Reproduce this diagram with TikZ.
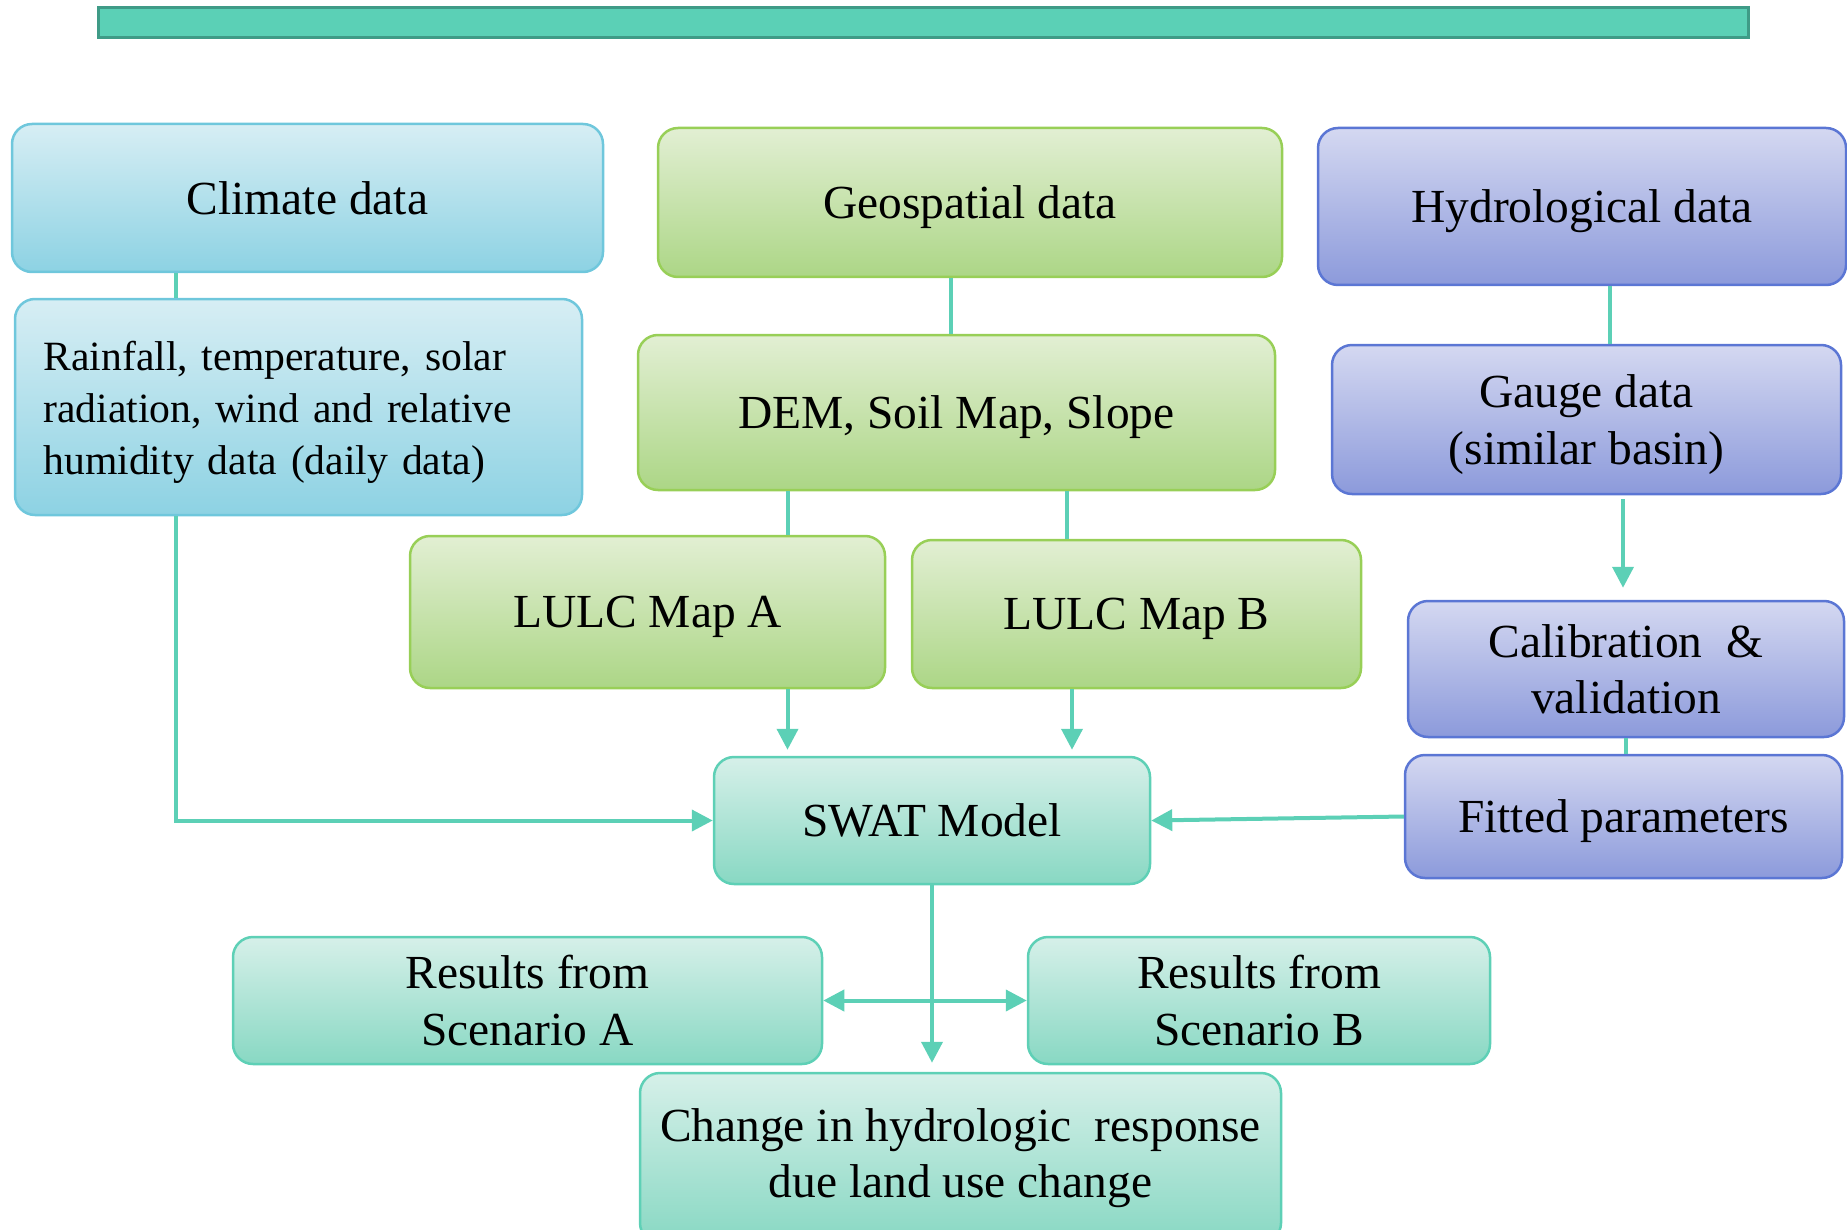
\documentclass[tikz,border=0pt]{standalone}
\usepackage{fontspec}
\setmainfont{Liberation Serif}
\usepackage{tikz}
\usetikzlibrary{arrows.meta}

\definecolor{climtop}{HTML}{D7EEF4}
\definecolor{climbot}{HTML}{8DD2E3}
\definecolor{climline}{HTML}{6FC7DC}
\definecolor{geotop}{HTML}{E2EFD3}
\definecolor{geobot}{HTML}{ACD686}
\definecolor{geoline}{HTML}{98CF57}
\definecolor{hydtop}{HTML}{D4D8F1}
\definecolor{hydbot}{HTML}{8C9ADB}
\definecolor{hydline}{HTML}{5B76D4}
\definecolor{swattop}{HTML}{D6F0E9}
\definecolor{swatbot}{HTML}{88D8C3}
\definecolor{swatline}{HTML}{5ED0B6}
\definecolor{linkc}{HTML}{5CD0B6}
\definecolor{barfill}{HTML}{5BD0B6}
\definecolor{barline}{HTML}{3F9B87}

\tikzset{
	box/.style={draw, rounded corners=2mm, line width=0.25mm, align=center,
		inner sep=0pt, font=\fontsize{13.5}{16}\selectfont},
	lowtext/.style={text depth=0pt},
	climbox/.style={box, draw=climline, top color=climtop, bottom color=climbot},
	geobox/.style={box, lowtext, draw=geoline, top color=geotop, bottom color=geobot},
	hydbox/.style={box, draw=hydline, top color=hydtop, bottom color=hydbot},
	swatbox/.style={box, draw=swatline, top color=swattop, bottom color=swatbot},
	link/.style={draw=linkc, line width=0.4mm},
	tip/.tip={Triangle[length=2.1mm, width=2.1mm]},
	flow/.style={link, -tip, shorten >=0.6mm},
}

\begin{document}
\begin{tikzpicture}[x=0.1mm, y=-0.1mm]
		%%%%% START %%%%%
		\useasboundingbox (0, 0) rectangle (1847, 1229);
		
		\draw[fill=barfill, draw=barline, line width=0.3mm] (98, 8) rectangle (1748, 38);
		
		% climate column
		\node[climbox, minimum width=59.1mm, minimum height=14.8mm] (climate) at (307.5, 198) {Climate data};
		\node[climbox, minimum width=56.7mm, minimum height=21.6mm, text width=51mm, align=left,
			text height=11.6pt, font=\fontsize{11.85}{14.8}\selectfont] (rain) at (298.5, 407)
			{Rainfall, temperature, solar\\radiation, wind and relative\\humidity data (daily data)};
		
		% geospatial column
		\node[geobox, minimum width=62.4mm, minimum height=14.9mm] (geo) at (970, 202.5) {Geospatial data};
		\node[geobox, minimum width=63.7mm, minimum height=15.5mm] (dem) at (956.5, 412.5) {DEM, Soil Map, Slope};
		\node[geobox, minimum width=47.5mm, minimum height=15.2mm] (lulcA) at (647.5, 612) {LULC Map A};
		\node[geobox, minimum width=44.9mm, minimum height=14.8mm] (lulcB) at (1136.5, 614) {LULC Map B};
		
		% hydrological column
		\node[hydbox, lowtext, minimum width=52.8mm, minimum height=15.7mm] (hydro) at (1582, 206.5) {Hydrological data};
		\node[hydbox, lowtext, minimum width=50.9mm, minimum height=14.9mm] (gauge) at (1586.5, 419.5) {Gauge data\\(similar basin)};
		\node[hydbox, minimum width=43.6mm, minimum height=13.6mm] (calib) at (1626, 669) {Calibration~~\&\\validation};
		\node[hydbox, lowtext, minimum width=43.7mm, minimum height=12.3mm] (fitted) at (1623.5, 816.5) {Fitted parameters};
		
		% model and outputs
		\node[swatbox, minimum width=43.6mm, minimum height=12.7mm] (swat) at (932, 820.5) {SWAT Model};
		\node[swatbox, minimum width=58.9mm, minimum height=12.7mm] (resA) at (527.5, 1000.5) {Results from\\Scenario A};
		\node[swatbox, minimum width=46.2mm, minimum height=12.7mm] (resB) at (1259, 1000.5) {Results from\\Scenario B};
		\node[swatbox, minimum width=64.1mm, minimum height=17mm] (change) at (960.5, 1158) {Change in hydrologic~~response\\due land use change};
		
		% connectors
		\draw[link] ([xshift=-13.2mm]climate.south) -- ([xshift=-13.2mm]climate.south |- rain.north);
		\draw[flow, shorten >=0pt] ([xshift=-12.3mm]rain.south) |- (swat.west);
		
		\draw[link] ([xshift=-1.9mm]geo.south) -- ([xshift=-1.9mm]geo.south |- dem.north);
		\draw[link] ([xshift=-16.9mm]dem.south) -- ([xshift=-16.9mm]dem.south |- lulcA.north);
		\draw[link] ([xshift=11.05mm]dem.south) -- ([xshift=11.05mm]dem.south |- lulcB.north);
		\draw[flow] ([xshift=14mm]lulcA.south) -- ([xshift=14mm]lulcA.south |- swat.north);
		\draw[flow] ([xshift=-6.45mm]lulcB.south) -- ([xshift=-6.45mm]lulcB.south |- swat.north);
		
		\draw[link] ([xshift=2.8mm]hydro.south) -- ([xshift=2.8mm]hydro.south |- gauge.north);
		\draw[flow, shorten <=0.4mm, shorten >=1.2mm] ([xshift=3.65mm]gauge.south) -- ([xshift=3.65mm]gauge.south |- calib.north);
		\draw[link] (calib.south) -- (calib.south |- fitted.north);
		\draw[flow, shorten >=0pt] (fitted.west) -- (swat.east);
		
		\draw[flow, shorten >=0.9mm] (swat.south) -- (swat.south |- change.north);
		\draw[link, tip-tip] (resA.east) -- (resB.west);
		%%%%% END %%%%%
	\end{tikzpicture}
\end{document}
